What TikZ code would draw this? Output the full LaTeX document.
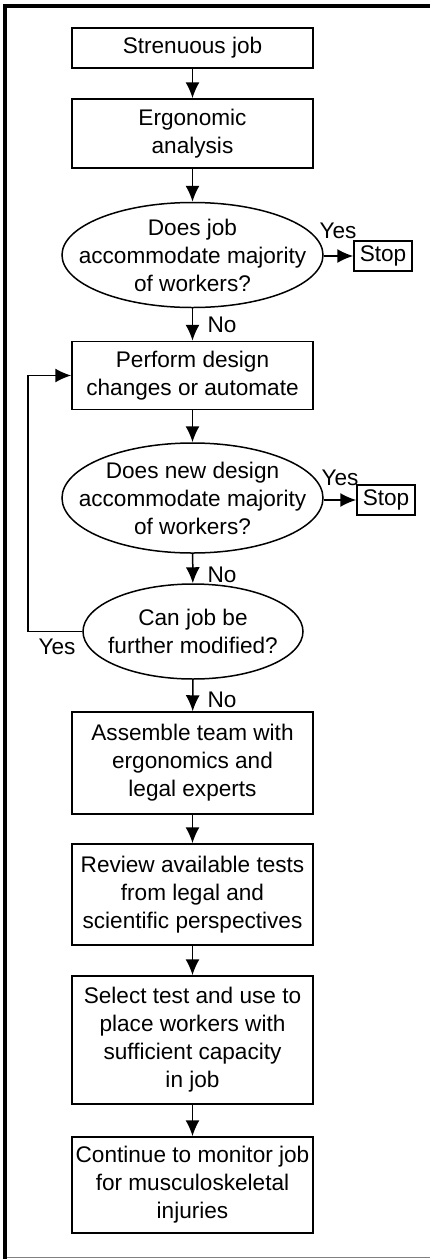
\documentclass[tikz,border=0pt]{standalone}
\usepackage{fontspec}
\setmainfont{Liberation Sans}
\usepackage{tikz}
\usetikzlibrary{shapes.geometric,arrows.meta}
\newcommand\flowfont{\fontsize{11.3}{14}\selectfont}
\tikzset{
  stepbox/.style={draw, line width=0.75pt, minimum width=120.5pt, inner xsep=0pt,
    inner ysep=1pt, align=center, font=\flowfont},
  decision/.style={draw, ellipse, line width=0.75pt, inner sep=0pt},
  qtext/.style={align=center, inner sep=0pt, font=\flowfont},
  stopbox/.style={draw, line width=0.75pt, minimum width=29pt, minimum height=15pt,
    inner sep=0pt, font=\flowfont},
  answer/.style={inner sep=0pt, font=\flowfont},
  flow/.style={line width=0.75pt, -{Latex[length=8pt,width=7pt]}}
}

\begin{document}
\begin{tikzpicture}[x=0.5pt, y=-0.5pt]
\useasboundingbox (0,0) rectangle (430,1259);
% frame
\draw[line width=2pt] (5,1259) -- (5,5.5) -- (430,5.5);
\draw[gray, line width=0.6pt] (7,1257.5) -- (430,1257.5);

% main column
\node[stepbox, minimum height=20pt] (b1) at (192.5,48) {Strenuous job};
\node[stepbox, minimum height=34.5pt] (b2) at (192.5,133.5) {Ergonomic\\analysis};
\node[decision, minimum width=130.5pt, minimum height=52.5pt] (q1) at (192.5,255) {};
\node[qtext] (q1t) at (q1) {Does job\\accommodate majority\\of workers?};
\node[stepbox, minimum height=34pt] (b3) at (192.5,375.5) {Perform design\\changes or automate};
\node[decision, minimum width=130.5pt, minimum height=55pt] (q2) at (192.5,498) {};
\node[qtext] (q2t) at (q2) {Does new design\\accommodate majority\\of workers?};
\node[decision, minimum width=110pt, minimum height=47.5pt] (q3) at (193,631.5) {};
\node[qtext] (q3t) at (q3) {Can job be\\further modified?};
\node[stepbox, minimum height=51pt] (b4) at (192.5,763) {Assemble team with\\ergonomics and\\legal experts};
\node[stepbox, minimum height=50.5pt] (b5) at (192.5,894.5) {Review available tests\\from legal and\\scientific perspectives};
\node[stepbox, minimum height=64pt] (b6) at (192.5,1040) {Select test and use to\\place workers with\\sufficient capacity\\in job};
\node[stepbox, minimum height=48pt] (b7) at (192.5,1185) {Continue to monitor job\\for musculoskeletal\\injuries};

% side exits
\node[stopbox] (stop1) at (383,256) {Stop};
\node[stopbox] (stop2) at (386,500) {Stop};
\node[answer] (yes1) at (338,231) {Yes};
\node[answer] (yes2) at (340,478) {Yes};
\node[answer] (yes3) at (57,647) {Yes};
\node[answer] (no1) at (222,325) {No};
\node[answer] (no2) at (222,575) {No};
\node[answer] (no3) at (222,700) {No};
\coordinate (back) at (28,0);

\draw[flow] (b1) -- (b2);
\draw[flow] (b2) -- (q1);
\draw[flow] (q1) -- (b3);
\draw[flow] (q1.east |- stop1.west) -- (stop1.west);
\draw[flow] (b3) -- (q2);
\draw[flow] (q2.east |- stop2.west) -- (stop2.west);
\draw[flow] (q2) -- (q3);
\draw[flow] (q3.west) -- (q3.west -| back) |- (b3.west);
\draw[flow] (q3) -- (b4);
\draw[flow] (b4) -- (b5);
\draw[flow] (b5) -- (b6);
\draw[flow] (b6) -- (b7);
\end{tikzpicture}
\end{document}
